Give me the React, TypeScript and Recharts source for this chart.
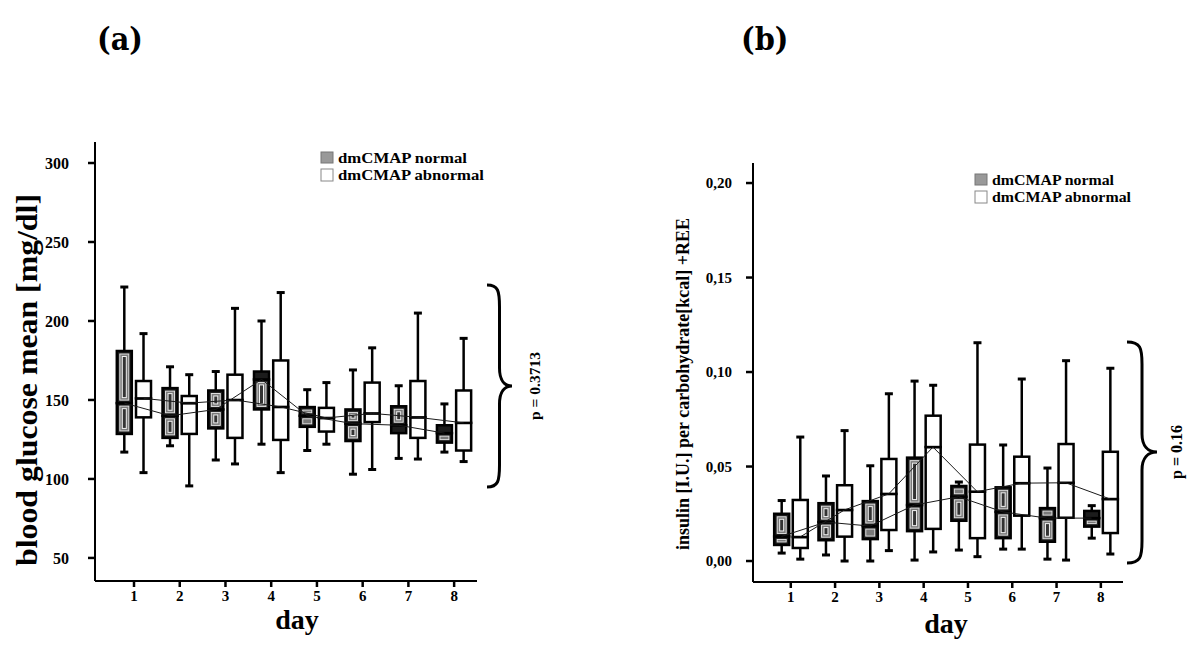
import { ComposedChart, Bar, Line, XAxis, YAxis } from "recharts";

const SERIF = "'Liberation Serif', 'Times New Roman', serif";

const DAYS = [1, 2, 3, 4, 5, 6, 7, 8];

// (a) blood glucose, dmCMAP normal
const A_N_MIN = [117, 121, 112, 122, 118, 103, 113, 117];
const A_N_Q1 = [128.5, 126, 132, 144, 133, 124, 129, 123];
const A_N_MED = [148, 140, 144, 163, 140, 135, 134, 129];
const A_N_Q3 = [181, 157.5, 156, 168, 145.5, 144, 146, 134];
const A_N_MAX = [221.5, 171, 168, 200, 156.5, 169, 159, 147.5];
// (a) blood glucose, dmCMAP abnormal
const A_A_MIN = [104, 95.6, 109.5, 104, 122, 106, 112.6, 111];
const A_A_Q1 = [139, 128.5, 126, 124.7, 130, 136, 126, 118];
const A_A_MED = [151, 148, 150, 145.6, 138.6, 141.5, 139, 135.5];
const A_A_Q3 = [162, 152.5, 166, 175, 145, 161, 162, 156];
const A_A_MAX = [192, 166, 208, 218, 161, 183, 205, 189];
const A_TICKS = [50, 100, 150, 200, 250, 300];

// (b) insulin per carbohydrate + REE, dmCMAP normal
const B_N_MIN = [0.0042, 0.0032, 0, 0.0005, 0.0058, 0.0063, 0.001, 0.0121];
const B_N_Q1 = [0.0085, 0.011, 0.0116, 0.0158, 0.0213, 0.0121, 0.0102, 0.0182];
const B_N_MED = [0.013, 0.0206, 0.0185, 0.0296, 0.034, 0.026, 0.0227, 0.0227];
const B_N_Q3 = [0.025, 0.0306, 0.0317, 0.0547, 0.0397, 0.039, 0.028, 0.0265];
const B_N_MAX = [0.032, 0.045, 0.0504, 0.0952, 0.0418, 0.0614, 0.0492, 0.0293];
// (b) dmCMAP abnormal
const B_A_MIN = [0.001, 0, 0.0055, 0.0048, 0.0023, 0.0063, 0.0005, 0.0037];
const B_A_Q1 = [0.0069, 0.0129, 0.0164, 0.017, 0.0121, 0.024, 0.0229, 0.0148];
const B_A_MED = [0.0127, 0.027, 0.0355, 0.0603, 0.0367, 0.0412, 0.0414, 0.0328];
const B_A_Q3 = [0.0323, 0.0401, 0.054, 0.0769, 0.0616, 0.0552, 0.0619, 0.0578];
const B_A_MAX = [0.0656, 0.069, 0.0885, 0.093, 0.1155, 0.0963, 0.106, 0.102];
const B_TICKS = [0, 0.05, 0.1, 0.15, 0.2];

type Stats = { min: number[]; q1: number[]; med: number[]; q3: number[]; max: number[] };

function buildRows(n: Stats, a: Stats) {
  const rows: any[] = [];
  DAYS.forEach((d, i) => {
    rows.push({
      x: d - 0.21,
      grp: "n",
      base: n.min[i],
      wLo: n.q1[i] - n.min[i],
      bLo: n.med[i] - n.q1[i],
      bHi: n.q3[i] - n.med[i],
      wHi: n.max[i] - n.q3[i],
      medN: n.med[i],
    });
    rows.push({
      x: d + 0.21,
      grp: "a",
      base: a.min[i],
      wLo: a.q1[i] - a.min[i],
      bLo: a.med[i] - a.q1[i],
      bHi: a.q3[i] - a.med[i],
      wHi: a.max[i] - a.q3[i],
      medA: a.med[i],
    });
  });
  return rows;
}

const rowsA = buildRows(
  { min: A_N_MIN, q1: A_N_Q1, med: A_N_MED, q3: A_N_Q3, max: A_N_MAX },
  { min: A_A_MIN, q1: A_A_Q1, med: A_A_MED, q3: A_A_Q3, max: A_A_MAX }
);
const rowsB = buildRows(
  { min: B_N_MIN, q1: B_N_Q1, med: B_N_MED, q3: B_N_Q3, max: B_N_MAX },
  { min: B_A_MIN, q1: B_A_Q1, med: B_A_MED, q3: B_A_Q3, max: B_A_MAX }
);

const whisker = (cap: "top" | "bottom") => (p: any) => {
  const { x, y, width, height } = p;
  if (y == null || isNaN(y)) return <g />;
  const cx = x + width / 2;
  const cy = cap === "top" ? y : y + height;
  return (
    <g>
      <line x1={cx} x2={cx} y1={y} y2={y + height} stroke="#000" strokeWidth={2.5} />
      <line x1={cx - 4} x2={cx + 4} y1={cy} y2={cy} stroke="#000" strokeWidth={3} />
    </g>
  );
};

const boxHalf = (p: any) => {
  const { x, y, width, height, payload } = p;
  if (y == null || isNaN(y)) return <g />;
  if (payload.grp === "a") {
    return <rect x={x} y={y} width={width} height={height} fill="#fff" stroke="#000" strokeWidth={2.5} />;
  }
  // the normal boxes in the scan have a dark fill with light concentric rims
  return (
    <g>
      <rect x={x} y={y} width={width} height={height} fill="#1c1c1c" stroke="#000" strokeWidth={2.5} />
      {height > 8 && (
        <rect x={x + 3} y={y + 3} width={width - 6} height={height - 6} fill="#7a7a7a" stroke="#e0e0e0" strokeWidth={1} />
      )}
      {height > 14 && (
        <rect x={x + 5.5} y={y + 5.5} width={width - 11} height={height - 11} fill="#333" stroke="#f2f2f2" strokeWidth={1} />
      )}
    </g>
  );
};

const makeTick = (size: number, axis: "x" | "y", fmt?: (v: number) => string) => (p: any) => {
  const { x, y, payload } = p;
  const v = fmt ? fmt(payload.value) : String(payload.value);
  return (
    <text
      x={x}
      y={y}
      dy={axis === "y" ? "0.35em" : "0.72em"}
      textAnchor={axis === "y" ? "end" : "middle"}
      fontFamily={SERIF}
      fontWeight={700}
      fontSize={size}
      fill="#000"
    >
      {v}
    </text>
  );
};

function BoxPanel({
  rows,
  domain,
  ticks,
  margin,
  yTick,
  yMargin,
}: {
  rows: any[];
  domain: [number, number];
  ticks: number[];
  margin: { top: number; right: number; bottom: number; left: number };
  yTick: (p: any) => any;
  yMargin: number;
}) {
  return (
    <ComposedChart width={600} height={648} data={rows} margin={margin}>
      <XAxis
        dataKey="x"
        type="number"
        domain={[0.147, 8.5]}
        ticks={DAYS}
        allowDataOverflow
        height={30}
        tickSize={6}
        tickMargin={3}
        axisLine={{ stroke: "#000", strokeWidth: 2 }}
        tickLine={{ stroke: "#000", strokeWidth: 2.5 }}
        tick={makeTick(15, "x")}
      />
      <YAxis
        type="number"
        domain={domain}
        ticks={ticks}
        allowDataOverflow
        width={60}
        tickSize={7}
        tickMargin={yMargin}
        axisLine={{ stroke: "#000", strokeWidth: 2 }}
        tickLine={{ stroke: "#000", strokeWidth: 2.5 }}
        tick={yTick}
      />
      <Bar dataKey="base" stackId="s" barSize={15} shape={() => <g />} isAnimationActive={false} />
      <Bar dataKey="wLo" stackId="s" barSize={15} shape={whisker("bottom")} isAnimationActive={false} />
      <Bar dataKey="bLo" stackId="s" barSize={15} shape={boxHalf} isAnimationActive={false} />
      <Bar dataKey="bHi" stackId="s" barSize={15} shape={boxHalf} isAnimationActive={false} />
      <Bar dataKey="wHi" stackId="s" barSize={15} shape={whisker("top")} isAnimationActive={false} />
      <Line dataKey="medN" stroke="#1a1a1a" strokeWidth={1} dot={false} connectNulls isAnimationActive={false} />
      <Line dataKey="medA" stroke="#1a1a1a" strokeWidth={1} dot={false} connectNulls isAnimationActive={false} />
    </ComposedChart>
  );
}

function brace(x0: number, top: number, bot: number, w: number, tipY: number) {
  const m = x0 + w * 0.5;
  const t = x0 + w;
  return (
    `M${x0},${top} C${x0 + w * 0.45},${top} ${m},${top + 6} ${m},${top + 22} ` +
    `L${m},${tipY - 18} C${m},${tipY - 6} ${m + w * 0.2},${tipY} ${t},${tipY} ` +
    `C${m + w * 0.2},${tipY} ${m},${tipY + 6} ${m},${tipY + 18} ` +
    `L${m},${bot - 22} C${m},${bot - 6} ${x0 + w * 0.45},${bot} ${x0},${bot}`
  );
}

function LegendBox({ x, y, wN, wA }: { x: number; y: number; wN: number; wA: number }) {
  const txt = { fontFamily: SERIF, fontWeight: 700, fontSize: 15, fill: "#000", lengthAdjust: "spacingAndGlyphs" as const };
  return (
    <g>
      <rect x={x} y={y} width={12} height={11} fill="#999" stroke="#777" strokeWidth={1} />
      <text x={x + 17} y={y + 10.5} textLength={wN} {...txt}>dmCMAP normal</text>
      <rect x={x} y={y + 17} width={12} height={12} fill="#fff" stroke="#888" strokeWidth={1} />
      <text x={x + 17} y={y + 27.5} textLength={wA} {...txt}>dmCMAP abnormal</text>
    </g>
  );
}

export default function App() {
  const label = { fontFamily: SERIF, fontWeight: 700, fill: "#000" };
  const title = {
    fontFamily: "'DejaVu Serif Condensed', 'DejaVu Serif', serif",
    fontWeight: 700,
    fontSize: 32,
    fill: "#000",
  };
  return (
    <div style={{ position: "absolute", left: 0, top: 0, width: 1200, height: 648, background: "#fff" }}>
      <div style={{ position: "absolute", left: 0, top: 0 }}>
        <BoxPanel
          rows={rowsA}
          domain={[35.4, 313.3]}
          ticks={A_TICKS}
          margin={{ top: 142, right: 123, bottom: 37, left: 35 }}
          yTick={makeTick(16, "y")}
          yMargin={19}
        />
      </div>
      <div style={{ position: "absolute", left: 600, top: 0 }}>
        <BoxPanel
          rows={rowsB}
          domain={[-0.0111, 0.2106]}
          ticks={B_TICKS}
          margin={{ top: 163, right: 77, bottom: 36, left: 93 }}
          yTick={makeTick(15, "y", (v) => v.toFixed(2).replace(".", ","))}
          yMargin={14}
        />
      </div>
      <svg width={1200} height={648} style={{ position: "absolute", left: 0, top: 0, pointerEvents: "none" }}>
        <text x={97} y={50} {...title}>(a)</text>
        <text x={741} y={50} {...title}>(b)</text>

        <text
          transform="translate(37,380) rotate(-90)"
          textAnchor="middle"
          fontSize={29}
          textLength={372}
          lengthAdjust="spacingAndGlyphs"
          {...label}
        >
          blood glucose mean [mg/dl]
        </text>
        <text x={297} y={629} textAnchor="middle" fontSize={28} {...label}>day</text>
        <LegendBox x={321} y={152} wN={129} wA={146} />
        <path d={brace(487, 285, 487, 25, 386)} fill="none" stroke="#000" strokeWidth={3} />
        <text transform="translate(540,386) rotate(-90)" textAnchor="middle" fontSize={15.5} {...label}>p = 0.3713</text>

        <text transform="translate(689,384) rotate(-90)" textAnchor="middle" fontSize={18} {...label}>
          insulin [I.U.] per carbohydrate[kcal] +REE
        </text>
        <text x={946} y={633} textAnchor="middle" fontSize={28} {...label}>day</text>
        <LegendBox x={975} y={174} wN={122} wA={139} />
        <path d={brace(1127, 342, 563, 30, 452)} fill="none" stroke="#000" strokeWidth={3} />
        <text transform="translate(1182,452) rotate(-90)" textAnchor="middle" fontSize={16} {...label}>p = 0.16</text>
      </svg>
    </div>
  );
}
